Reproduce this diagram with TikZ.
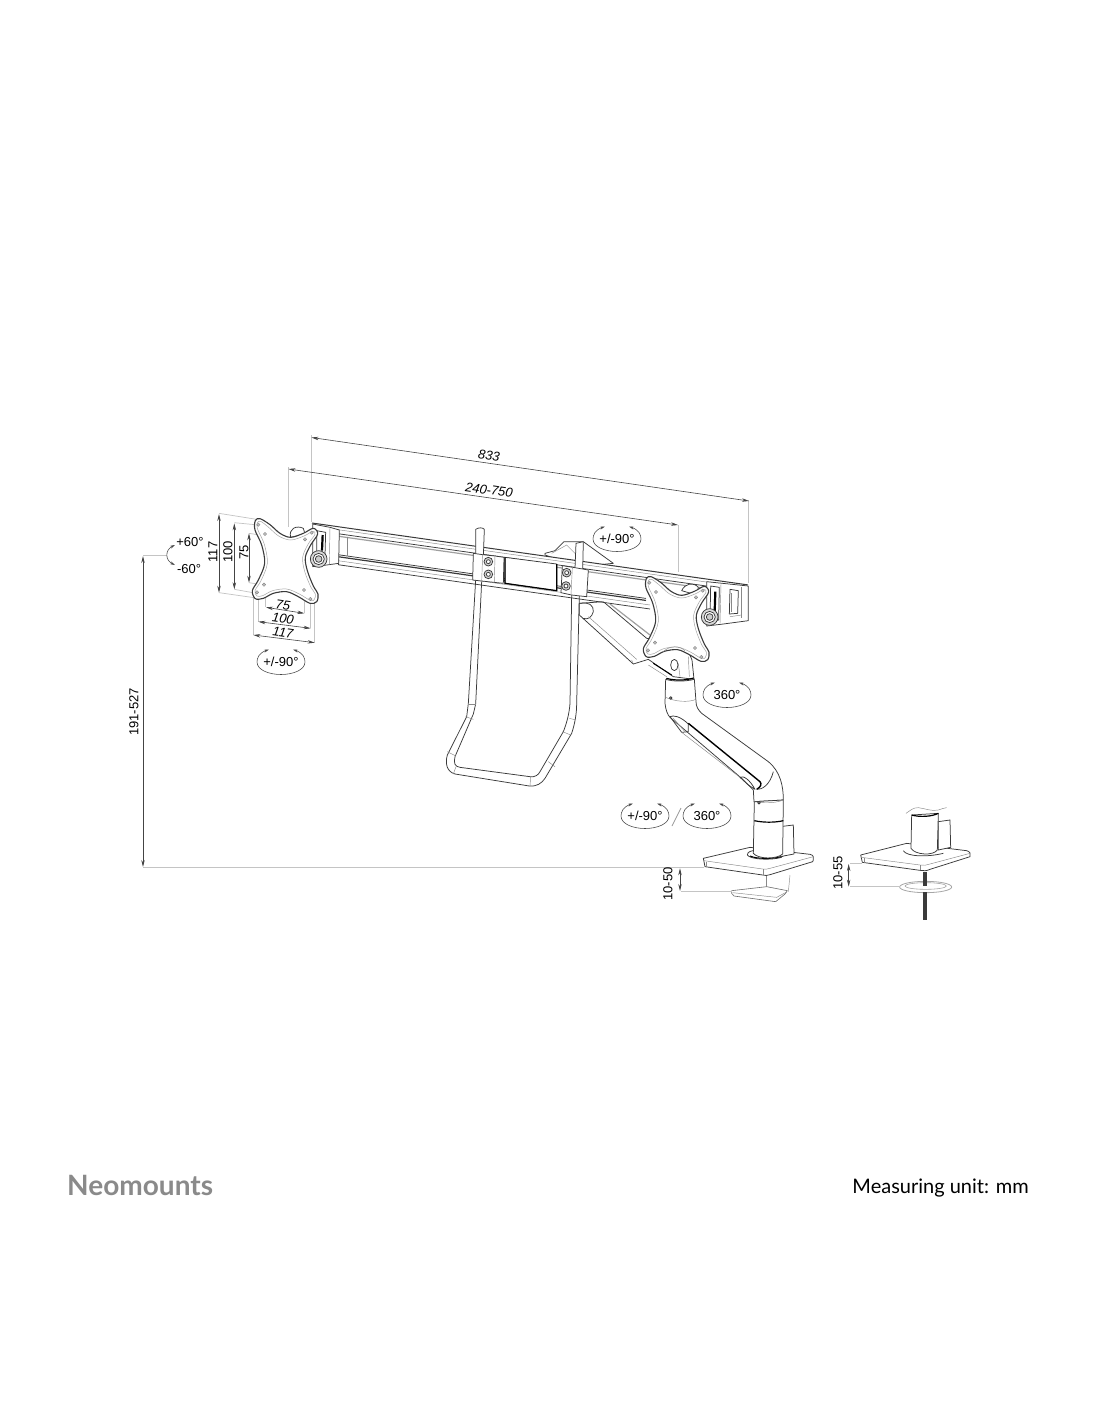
\documentclass[tikz,border=0pt]{standalone}
\usepackage{fontspec}
\setmainfont{Liberation Sans}
\newfontfamily\logofont{Lato}
\usetikzlibrary{arrows.meta,calc}
\definecolor{ink}{HTML}{3A3A3A}
\definecolor{extc}{HTML}{C4C4C4}
\definecolor{dimc}{HTML}{444444}
\definecolor{logoc}{HTML}{8A8A8A}
\tikzset{
 ln/.style={draw=ink,line width=.75pt,line join=round},
 fl/.style={ln,fill=white},
 thn/.style={draw=ink!60,line width=.45pt},
 blk/.style={draw=black,line width=1.2pt},
 grey/.style={draw=gray!75,line width=1.2pt},
 extl/.style={draw=extc,line width=.7pt},
 dimen/.style={draw=dimc,line width=.6pt,{Stealth[length=7pt,width=3.4pt]}-{Stealth[length=7pt,width=3.4pt]}},
 dimtxt/.style={font=\fontsize{13}{13}\selectfont,text=black,inner sep=0pt},
 dimit/.style={font=\fontsize{13}{13}\selectfont\itshape,text=black,inner sep=0pt},
 z1/.style={shift={(130,430)},scale=1/3},
 z2/.style={shift={(440,500)},scale=1/3},
 z3/.style={shift={(610,760)},scale=1/3},
 rotarc/.style={draw=dimc,line width=.55pt,{Stealth[length=5pt,width=2.8pt]}-{Stealth[length=5pt,width=2.8pt]}},
 knobouter/.style={ln,fill=gray!30},
 knobinner/.style={ln,fill=gray!40},
}
% plate drawn in zoom-1 coordinates, shifted
\newcommand{\plate}[2]{%
 \begin{scope}[shift={(#1,#2)},z1]
  \draw[fl,line width=1.1pt] plot[smooth cycle,tension=.55] coordinates {(376,272)(390,266)(420,284)(450,310)(482,322)(520,310)(550,295)(563,312)(542,345)(526,382)(532,422)(550,468)(564,492)(560,515)(540,520)(505,500)(470,485)(430,490)(400,505)(376,506)(367,482)(385,450)(404,400)(395,345)(375,300)};
  \draw[draw=gray!70,line width=.5pt] plot[smooth cycle,tension=.55] coordinates {(382,278)(392,274)(416,292)(446,318)(482,330)(522,318)(548,304)(555,313)(534,343)(518,382)(524,424)(542,470)(556,492)(553,508)(542,512)(508,492)(470,477)(428,482)(398,497)(381,498)(375,482)(393,452)(412,400)(403,343)(383,298)};
  \foreach \p/\q in {385/284,405/312,545/308,525/328,402/464,381/487,522/480,541/507}{
   \draw[thn,fill=gray!50] (\p,\q) circle[radius=5];}
 \end{scope}}
\newcommand{\knob}{%
 \draw[knobouter] (566,387) circle[radius=25];
 \draw[ln,fill=white] (566,387) circle[radius=17];
 \draw[knobinner] (566,387) circle[radius=10];}
\newcommand{\badge}[4]{%
 \node[dimtxt] (#1) at (#2,#3) {#4};
 \draw[rotarc] (#2-12,#3-12.5) .. controls (#2-22,#3-9) and (#2-24,#3-4) .. (#2-24,#3) .. controls (#2-24,#3+8) and (#2-12,#3+12.5) .. (#2,#3+12.5) .. controls (#2+12,#3+12.5) and (#2+24,#3+8) .. (#2+24,#3) .. controls (#2+24,#3-4) and (#2+22,#3-9) .. (#2+12,#3-12.5);
}
\begin{document}
\begin{tikzpicture}[x=1pt,y=-1pt,declare function={ry(\x,\d)=523+0.142*(\x-312)+\d;}]
\useasboundingbox (0,0) rectangle (1100,1422);
\fill[white] (0,0) rectangle (1100,1422);

% ---- extension lines
\draw[extl] (311.5,435) -- (311.5,522);
\draw[extl] (288,467) -- (288,527);
\draw[extl] (678,525) -- (678,572);
\draw[extl] (748.5,500) -- (748.5,583);
\draw[extl] (143,555) -- (167,555);
\draw[extl] (143,867) -- (704,867);
\begin{scope}[z1]
 \draw[extl] (267,250) -- (380,268);
 \draw[extl] (313,278) -- (385,285);
 \draw[extl] (357,310) -- (395,316);
 \draw[extl] (357,458) -- (395,464);
 \draw[extl] (313,478) -- (380,490);
 \draw[extl] (267,488) -- (372,503);
 \draw[extl] (370,505) -- (370,615);
 \draw[extl] (385,505) -- (385,575);
 \draw[extl] (405,505) -- (405,532);
 \draw[extl] (523,495) -- (523,550);
 \draw[extl] (541,518) -- (541,595);
 \draw[extl] (553,515) -- (553,638);
\end{scope}

% ---- upper arm behind the rail (zoom-2 frame)
\begin{scope}[z2]
 \draw[fl] (315,160) -- (345,152) -- (372,125) -- (430,125) -- (520,190) -- (420,200) -- (315,165) -- cycle;
 \draw[thn] (335,160) -- (380,135) -- (405,160);
 \draw[fl] (418,310) -- (418,345) -- (440,365) -- (580,492) -- (625,478) -- (700,530) -- (762,538) -- (756,480) -- (735,430) -- (620,415) -- (490,305) -- cycle;
 \draw[ln] (420,310) .. controls (445,305) and (462,315) .. (460,335) .. controls (455,352) and (445,360) .. (428,355);
 \draw[thn] (445,350) -- (590,478);
 \draw[grey] (510,312) -- (630,405);
 \draw[thn] (580,492) -- (575,480);
 \draw[blk,line width=1pt] (640,490) -- (695,525);
 \draw[thn] (625,495) -- (680,530);
 \draw[thn] (715,490) -- (720,530);
 \draw[thn] (745,470) -- (748,530);
 \draw[ln] (703,495) ellipse[x radius=11,y radius=17];
\end{scope}

% ---- rail
\fill[white] (312,{ry(312,0)}) -- (748,{ry(748,0)}) -- (748,{ry(748,37)}) -- (337,{ry(337,37)}) -- (337,{ry(337,5)}) -- (312,{ry(312,5)}) -- cycle;
\draw[ln,line width=1pt] (312,{ry(312,0)}) -- (748,{ry(748,0)});
\draw[thn] (316,{ry(316,3)}) -- (722,{ry(722,3)});
\draw[ln] (338,{ry(338,7)}) -- (722,{ry(722,7)});
\draw[grey] (338,{ry(338,9.5)}) -- (722,{ry(722,9.5)});
\draw[ln] (338,{ry(338,28)}) -- (646,{ry(646,28)});
\draw[grey,draw=ink] (338,{ry(338,30)}) -- (646,{ry(646,30)});
\draw[thn] (338,{ry(338,34)}) -- (650,{ry(650,34)});
\draw[ln] (338,{ry(338,38)}) -- (650,{ry(650,38)});
\draw[thn] (347,{ry(347,9)}) -- (347,{ry(347,28)});
\draw[ln] (338,{ry(338,7)}) -- (338,{ry(338,38)});

% ---- centre block and handle
\begin{scope}[z2]
 \draw[ln] (107,240) -- (85,610) -- (80,650) -- (22,765) .. controls (15,790) and (20,815) .. (45,822) -- (268,858) .. controls (290,860) and (305,850) .. (315,835) -- (395,700) .. controls (405,670) and (410,640) .. (410,610) -- (418,285);
 \draw[ln] (125,245) -- (107,612) -- (100,642) -- (45,770) .. controls (40,790) and (45,800) .. (60,802) -- (270,830) .. controls (285,832) and (295,825) .. (300,815) -- (370,695) .. controls (380,670) and (388,640) .. (390,610) -- (395,285);
 \draw[thn] (85,612) -- (107,612);
 \draw[thn] (77,650) -- (100,658);
 \draw[thn] (22,755) -- (48,768);
 \draw[thn] (40,822) -- (48,800);
 \draw[thn] (270,858) -- (272,830);
 \draw[thn] (325,785) -- (345,800);
 \draw[thn] (368,695) -- (392,705);
 \draw[thn] (388,655) -- (408,660);
 \draw[fl] (195,172) -- (350,192) -- (350,272) -- (195,250) -- cycle;
 \draw[blk] (195,172) -- (195,250) -- (350,272) -- (350,192);
 \draw[fl] (107,88) .. controls (115,82) and (128,82) .. (133,88) -- (130,170) -- (107,165) -- cycle;
 \draw[fl] (100,160) -- (128,164) -- (165,168) -- (192,172) -- (190,250) -- (125,243) -- (98,240) -- cycle;
 \draw[thn] (128,164) -- (125,243);
 \draw[thn] (165,168) -- (163,247);
 \foreach \q/\r in {145/185,145/223}{
  \draw[ln,fill=gray!35] (\q,\r) circle[radius=13];
  \draw[ln,fill=white] (\q,\r) circle[radius=6];}
 \draw[fl] (408,130) -- (430,125) -- (428,210) -- (405,205) -- cycle;
 \draw[fl] (367,197) -- (405,203) -- (445,210) -- (440,290) -- (395,285) -- (363,278) -- cycle;
 \draw[thn] (397,203) -- (393,285);
 \foreach \q/\r in {380/218,378/258}{
  \draw[ln,fill=gray!35] (\q,\r) circle[radius=13];
  \draw[ln,fill=white] (\q,\r) circle[radius=6];}
\end{scope}

% ---- left end of the rail
\begin{scope}[z1]
 \draw[fl] (482,322) .. controls (475,295) and (500,285) .. (520,295) -- (525,312) -- cycle;
 \draw[fl] (548,282) -- (600,292) -- (628,300) -- (626,400) -- (590,405) -- (548,410) -- cycle;
 \draw[thn] (600,292) -- (598,404);
 \draw[ln] (560,302) -- (587,307) -- (585,375) -- (560,380) -- cycle;
 \draw[blk,line width=2.2pt] (578,315) -- (576,362);
 \knob
\end{scope}
\plate{0}{0}

% ---- right end of the rail
\begin{scope}[z2]
 \draw[fl] (800,245) -- (925,258) -- (925,362) -- (850,372) -- (800,378) -- cycle;
 \draw[thn] (843,252) -- (840,370);
 \draw[thn] (905,260) -- (905,355);
 \draw[ln] (870,268) -- (895,272) -- (893,340) -- (868,342) -- cycle;
 \draw[thn] (875,280) -- (875,335);
 \draw[thn] (870,350) -- (905,345);
 \draw[ln] (812,258) -- (838,262) -- (836,360) -- (810,365) -- cycle;
 \draw[blk,line width=2.2pt] (826,275) -- (824,335);
 \draw[fl] (725,272) .. controls (735,250) and (760,245) .. (775,262) -- (770,285) -- cycle;
\end{scope}

% ---- lower arm (zoom-2 frame)
\begin{scope}[z2]
 \draw[fl] (677,538) -- (675,610) .. controls (677,630) and (683,645) .. (690,652) -- (905,835) -- (940,870) -- (942,905) -- (1030,900) .. controls (1030,860) and (1022,815) .. (985,785) -- (785,640) .. controls (775,630) and (768,620) .. (768,605) -- (763,538) .. controls (735,545) and (700,545) .. (677,538) -- cycle;
 \draw[blk] (679,535) .. controls (705,542) and (735,542) .. (761,534);
 \draw[thn] (677,592) .. controls (705,605) and (745,608) .. (768,598);
 \draw[ln,fill=gray!60] (692,594) circle[radius=4];
 \draw[ln] (690,650) .. controls (700,645) and (720,648) .. (745,672) -- (745,695) -- (725,697) -- cycle;
 \draw[thn] (700,655) -- (735,695);
 \draw[blk,line width=1.4pt] (745,670) -- (960,845) .. controls (966,852) and (962,862) .. (950,868);
 \draw[thn] (725,697) -- (900,832);
 \draw[ln] (900,832) .. controls (910,825) and (930,840) .. (945,868) -- (925,855) -- cycle;
 \draw[ln] (950,868) .. controls (965,870) and (990,855) .. (1000,815);
\end{scope}

% ---- right plate above everything
\plate{391}{58}
\begin{scope}[z1]
 \begin{scope}[shift={(1173,174)}]
  \knob
 \end{scope}
\end{scope}
\begin{scope}[z2]
 \draw[thn] (670,455) .. controls (690,435) and (720,438) .. (735,452);
\end{scope}

% ---- desk base, left assembly (zoom-3 frame)
\begin{scope}[z3]
 \draw[thn] (470,345) -- (470,380);
 \draw[thn] (540,345) -- (535,395);
 \draw[fl,draw=ink!75,line width=.6pt] (365,392) -- (470,380) -- (532,392) -- (525,402) -- (497,425) -- (372,408) -- (365,400) -- cycle;
 \draw[thn] (368,398) -- (500,412) -- (530,396);
 \draw[fl] (280,295) -- (420,262) -- (600,283) .. controls (610,285) and (612,292) .. (610,300) -- (608,305) -- (480,344) .. controls (472,347) and (465,347) .. (458,345) -- (285,320) -- cycle;
 \draw[thn] (282,302) -- (458,327) .. controls (465,328) and (472,328) .. (480,325) -- (610,290);
 \draw[thn] (290,305) -- (290,322);
 \draw[thn] (460,327) -- (460,345);
 \draw[ln] (412,285) .. controls (412,275) and (425,272) .. (432,272);
 \draw[ln] (412,285) .. controls (420,298) and (480,302) .. (515,292);
 \draw[blk,line width=1pt] (420,288) .. controls (440,297) and (490,298) .. (520,288);
 \draw[fl] (510,200) -- (550,195) -- (552,282) -- (510,290) -- cycle;
 \draw[fl] (433,125) -- (430,280) .. controls (445,298) and (500,298) .. (518,282) -- (520,120) -- cycle;
 \draw[blk] (433,182) .. controls (460,188) and (495,188) .. (520,182);
 \draw[thn] (433,125) .. controls (460,130) and (495,130) .. (520,120);
 \draw[ln,fill=gray!60] (447,128) circle[radius=4];
\end{scope}

% ---- desk base, right assembly (zoom-3 frame)
\begin{scope}[z3]
 \draw[fl] (752,285) -- (890,250) -- (1070,272) .. controls (1080,274) and (1083,282) .. (1080,290) -- (960,328) .. controls (950,333) and (940,333) .. (930,331) -- (757,307) -- cycle;
 \draw[thn] (754,292) -- (930,315) .. controls (940,317) and (950,316) .. (960,312) -- (1080,280);
 \draw[thn] (762,295) -- (762,308);
 \draw[thn] (932,315) -- (932,331);
 \draw[ln] (880,272) .. controls (890,290) and (950,292) .. (1000,280);
 \draw[fl] (985,185) -- (1020,180) -- (1022,262) -- (985,270) -- cycle;
 \draw[fl] (905,165) -- (903,265) .. controls (915,285) and (970,288) .. (982,270) -- (985,160) -- cycle;
 \draw[blk] (905,165) .. controls (930,172) and (965,170) .. (985,160);
 \draw[thn] (888,160) .. controls (900,152) and (910,142) .. (925,143) .. controls (945,145) and (965,155) .. (985,150) .. controls (995,148) and (1003,142) .. (1010,143);
 \draw[draw=gray!70,line width=.8pt,fill=white] (947,381) ellipse[x radius=78,y radius=17];
 \draw[draw=gray!70,line width=.6pt] (947,378) ellipse[x radius=62,y radius=10];
 \draw[draw=ink,line width=3.6pt] (945,335) -- (945,378);
 \draw[draw=ink,line width=3.8pt] (945,396) -- (945,480);
\end{scope}

% ---- dimension lines
\coordinate (a833) at (311.5,437.5); \coordinate (b833) at (749,501);
\coordinate (a240) at (288.5,469);   \coordinate (b240) at (678,525);
\draw[dimen] (a833) -- (b833);
\draw[dimen] (a240) -- (b240);
\node[dimit,rotate=-8.2] (t833) at (489,456) {833};
\node[dimit,rotate=-8.2] (t240) at (489,490) {240-750};
\coordinate (a191) at (143,556); \coordinate (b191) at (143,867);
\draw[dimen] (a191) -- (b191);
\node[dimtxt,rotate=90] (t191) at (134,712) {191-527};
\begin{scope}[z1]
 \coordinate (v1a) at (267,252); \coordinate (v1b) at (267,488);
 \coordinate (v2a) at (313,280); \coordinate (v2b) at (313,478);
 \coordinate (v3a) at (357,310); \coordinate (v3b) at (357,458);
 \draw[dimen] (v1a) -- (v1b);
 \draw[dimen] (v2a) -- (v2b);
 \draw[dimen] (v3a) -- (v3b);
 \coordinate (h1a) at (408,532); \coordinate (h1b) at (523,550);
 \coordinate (h2a) at (385,575); \coordinate (h2b) at (542,595);
 \coordinate (h3a) at (370,615); \coordinate (h3b) at (554,638);
 \draw[dimen] (h1a) -- (h1b);
 \draw[dimen] (h2a) -- (h2b);
 \draw[dimen] (h3a) -- (h3b);
 \coordinate (r60a) at (135,345); \coordinate (r60b) at (135,405);
 \draw[rotarc] (r60a) .. controls (105,360) and (105,390) .. (r60b);
\end{scope}
\node[dimtxt,rotate=90] (t117v) at (213,552) {117};
\node[dimtxt,rotate=90] (t100v) at (228,552) {100};
\node[dimtxt,rotate=90] (t75v) at (244,552) {75};
\node[dimit,rotate=-8] (t75h) at (283,605) {75};
\node[dimit,rotate=-8] (t100h) at (283,619) {100};
\node[dimit,rotate=-8] (t117h) at (283,633) {117};
\node[dimtxt] (tp60) at (190,542) {+60°};
\node[dimtxt] (tm60) at (189,569) {-60°};

% ---- badges
\badge{bA}{281}{662}{+/-90°}
\badge{bB}{617}{539}{+/-90°}
\badge{bC}{727}{695}{360°}
\badge{bD}{645}{816}{+/-90°}
\badge{bE}{707}{816}{360°}
\coordinate (s1) at (681,808); \coordinate (s2) at (672,826);
\draw[draw=gray!80,line width=.7pt] (s1) -- (s2);

% ---- 10-50 and 10-55
\begin{scope}[z3]
 \draw[extl] (213,393) -- (365,393);
 \coordinate (d1a) at (210,325); \coordinate (d1b) at (210,393);
 \draw[dimen] (d1a) -- (d1b);
 \draw[extl] (720,310) -- (755,310);
 \draw[extl] (720,380) -- (870,380);
 \coordinate (d2a) at (716,312); \coordinate (d2b) at (716,380);
 \draw[dimen] (d2a) -- (d2b);
\end{scope}
\node[dimtxt,rotate=90] (t1050) at (668,884) {10-50};
\node[dimtxt,rotate=90] (t1055) at (838,873) {10-55};

% ---- footer
\node[anchor=west,inner sep=0pt,text=logoc,font=\logofont\bfseries\fontsize{28}{28}\selectfont] (logo) at (67,1185) {Neomounts};
\node[anchor=east,inner sep=0pt,text=black,font=\logofont\fontsize{20}{20}\selectfont] (unit) at (1029,1188) {Measuring unit: mm};
\end{tikzpicture}
\end{document}
